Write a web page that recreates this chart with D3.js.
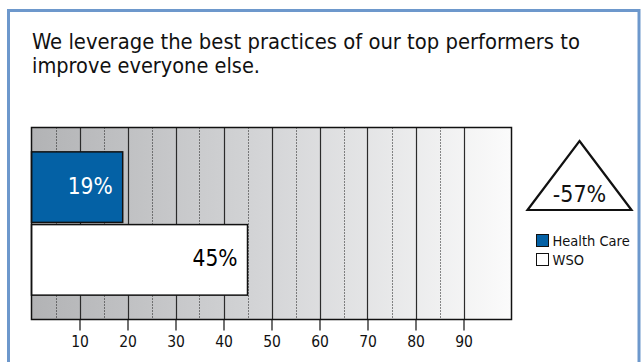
<!DOCTYPE html>
<html>
<head>
<meta charset="utf-8">
<script src="https://cdn.jsdelivr.net/npm/d3@7"></script>
<style>
  html, body { margin: 0; padding: 0; background: #fff; }
  svg { display: block; }
  text { font-family: "DejaVu Sans", Verdana, sans-serif; font-stretch: condensed; }
</style>
</head>
<body>
<svg id="chart" width="642" height="362"></svg>
<script>
// Chart content
const titleLines = ["We leverage the best practices of our top performers to", "improve everyone else."];
const categories = ["Health Care", "WSO"];
const values = [19, 45];
const barColors = ["#0461a5", "#ffffff"];
const labelColors = ["#ffffff", "#000000"];
const majorTicks = [10, 20, 30, 40, 50, 60, 70, 80, 90];
const minorTicks = [5, 15, 25, 35, 45, 55, 65, 75, 85];
const changeLabel = "-57%";
const xDomain = [0, 100];

const svg = d3.select("#chart");

// Outer frame
svg.append("rect")
  .attr("x", 8.5).attr("y", 10.5)
  .attr("width", 630.5).attr("height", 370)
  .attr("fill", "#fff")
  .attr("stroke", "#6d98cc")
  .attr("stroke-width", 3);

// Title, two lines, each fitted to its measured width
const titleWidths = [548, 228];
titleLines.forEach((t, i) => {
  svg.append("text")
    .attr("x", 32).attr("y", 49 + i * 24.2)
    .attr("font-size", 20.8)
    .attr("fill", "#111")
    .attr("textLength", titleWidths[i])
    .attr("lengthAdjust", "spacingAndGlyphs")
    .text(t);
});

// Plot area
const plot = { left: 31.5, right: 511.5, top: 127.5, bottom: 319.5 };

const x = d3.scaleLinear().domain(xDomain).range([plot.left, plot.right]);
const y = d3.scaleBand().domain(categories)
  .range([plot.top, plot.bottom])
  .paddingInner(0.03).paddingOuter(0.335);

// Background gradient
const defs = svg.append("defs");
const grad = defs.append("linearGradient").attr("id", "bg")
  .attr("x1", "0%").attr("x2", "100%").attr("y1", "0%").attr("y2", "0%");
grad.append("stop").attr("offset", "0%").attr("stop-color", "#b2b3b5");
grad.append("stop").attr("offset", "50%").attr("stop-color", "#d5d6d8");
grad.append("stop").attr("offset", "100%").attr("stop-color", "#fbfbfb");

svg.append("rect")
  .attr("x", plot.left).attr("y", plot.top)
  .attr("width", plot.right - plot.left).attr("height", plot.bottom - plot.top)
  .attr("fill", "url(#bg)");

// Minor (dotted) gridlines
svg.append("g").selectAll("line").data(minorTicks).join("line")
  .attr("x1", d => Math.round(x(d)) + 0.5).attr("x2", d => Math.round(x(d)) + 0.5)
  .attr("y1", plot.top).attr("y2", plot.bottom)
  .attr("stroke", "#1a1a1a").attr("stroke-width", 1)
  .attr("stroke-dasharray", "1,2");

// Major gridlines
svg.append("g").selectAll("line").data(majorTicks).join("line")
  .attr("x1", d => Math.round(x(d)) + 0.5).attr("x2", d => Math.round(x(d)) + 0.5)
  .attr("y1", plot.top).attr("y2", plot.bottom)
  .attr("stroke", "#2b2b2b").attr("stroke-width", 1.2);

// Bars
const bars = categories.map((c, i) => ({ c, v: values[i], fill: barColors[i], lc: labelColors[i] }));
svg.append("g").selectAll("rect").data(bars).join("rect")
  .attr("x", x(0)).attr("y", d => y(d.c))
  .attr("width", d => x(d.v) - x(0)).attr("height", y.bandwidth())
  .attr("fill", d => d.fill)
  .attr("stroke", "#111").attr("stroke-width", 1.5);

svg.append("g").selectAll("text").data(bars).join("text")
  .attr("x", d => x(d.v) - 10).attr("y", d => y(d.c) + y.bandwidth() / 2 + 6.5)
  .attr("text-anchor", "end")
  .attr("font-size", 22.5)
  .attr("fill", d => d.lc)
  .text(d => d.v + "%");

// Plot frame
svg.append("rect")
  .attr("x", plot.left).attr("y", plot.top)
  .attr("width", plot.right - plot.left).attr("height", plot.bottom - plot.top)
  .attr("fill", "none").attr("stroke", "#111").attr("stroke-width", 1.5);

// X axis
const axis = d3.axisBottom(x).tickValues(majorTicks).tickSize(11).tickPadding(5).tickSizeOuter(0);
const ax = svg.append("g").attr("transform", `translate(0,${plot.bottom})`).call(axis);
ax.select(".domain").remove();
ax.selectAll(".tick line").attr("stroke", "#111").attr("stroke-width", 1.2);
ax.selectAll(".tick text")
  .attr("font-size", 15.5).attr("fill", "#111")
  .style("font-family", '"DejaVu Sans", Verdana, sans-serif');

// Change indicator triangle
const tri = { cx: 579.5, top: 141, base: 210, half: 52 };
svg.append("path")
  .attr("d", d3.line()([[tri.cx, tri.top], [tri.cx + tri.half, tri.base], [tri.cx - tri.half, tri.base]]) + "Z")
  .attr("fill", "#fff").attr("stroke", "#111").attr("stroke-width", 2.2)
  .attr("stroke-linejoin", "miter");
svg.append("text")
  .attr("x", tri.cx).attr("y", 202)
  .attr("text-anchor", "middle")
  .attr("font-size", 23).attr("fill", "#111")
  .text(changeLabel);

// Legend
const lg = svg.append("g").attr("transform", "translate(536.5,234.5)");
const items = lg.selectAll("g").data(bars).join("g")
  .attr("transform", (d, i) => `translate(0,${i * 19})`);
items.append("rect")
  .attr("width", 12).attr("height", 12)
  .attr("fill", d => d.fill).attr("stroke", "#111").attr("stroke-width", 1);
items.append("text")
  .attr("x", 16).attr("y", 11.5)
  .attr("font-size", 14.5).attr("fill", "#111")
  .text(d => d.c);
</script>
</body>
</html>
